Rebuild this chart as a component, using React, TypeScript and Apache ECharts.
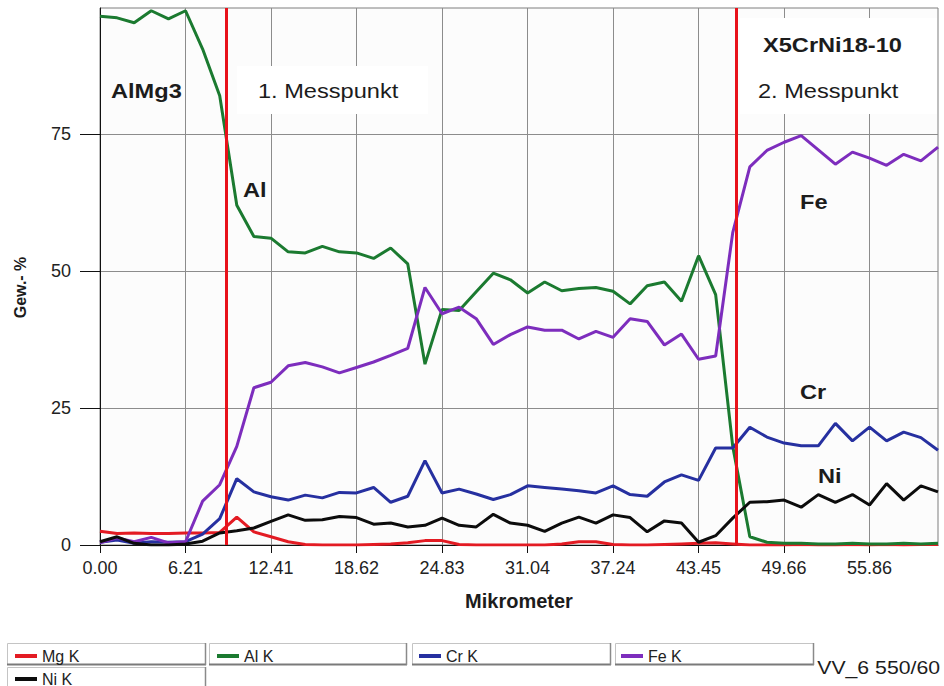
import React, { useEffect, useRef } from "react";
import * as echarts from "echarts";

// Distance along the line scan (µm), one point per measurement
const xPositions = [
  0.0, 1.24, 2.48, 3.72, 4.97, 6.21, 7.45, 8.69, 9.93, 11.17,
  12.41, 13.66, 14.9, 16.14, 17.38, 18.62, 19.86, 21.1, 22.34, 23.59,
  24.83, 26.07, 27.31, 28.55, 29.79, 31.04, 32.28, 33.52, 34.76, 36.0,
  37.24, 38.48, 39.72, 40.97, 42.21, 43.45, 44.69, 45.93, 47.17, 48.41,
  49.66, 50.9, 52.14, 53.38, 54.62, 55.86, 57.1, 58.34, 59.59, 60.83,
];
const xAxisMax = 60.83;
const xTickLabels = ["0.00", "6.21", "12.41", "18.62", "24.83", "31.04", "37.24", "43.45", "49.66", "55.86"];
const xTickStep = 6.207;
const yTickValues = [0, 25, 50, 75];
const yAxisMax = 98;

const seriesNames = ["Mg K", "Al K", "Cr K", "Fe K", "Ni K"];
const seriesColors = ["#e31b23", "#1b7a30", "#2630a0", "#7d2dbd", "#0c0c0c"];

const mgK = [
  2.5, 2.1, 2.2, 2.1, 2.1, 2.2, 2.2, 2.3, 5.1, 2.4,
  1.5, 0.6, 0.1, 0.0, 0.0, 0.0, 0.1, 0.2, 0.4, 0.8,
  0.8, 0.1, 0.0, 0.0, 0.0, 0.0, 0.0, 0.2, 0.6, 0.6,
  0.1, 0.0, 0.0, 0.1, 0.2, 0.3, 0.4, 0.2, 0.0, 0.0,
  0.0, 0.1, 0.0, 0.0, 0.1, 0.0, 0.1, 0.0, 0.1, 0.1,
];
const alK = [
  96.5, 96.2, 95.3, 97.5, 96.0, 97.5, 90.5, 82.0, 62.0, 56.3,
  56.0, 53.5, 53.3, 54.5, 53.5, 53.3, 52.3, 54.2, 51.3, 33.0,
  43.0, 42.8, 46.2, 49.6, 48.4, 46.0, 48.0, 46.4, 46.8, 47.0,
  46.3, 44.0, 47.3, 48.0, 44.5, 52.8, 45.7, 18.0, 1.5, 0.5,
  0.3, 0.3, 0.2, 0.2, 0.3, 0.2, 0.2, 0.3, 0.2, 0.3,
];
const crK = [
  0.5, 0.9, 0.3, 0.6, 0.5, 0.6, 2.0, 4.8, 12.1, 9.7,
  8.8, 8.2, 9.1, 8.6, 9.6, 9.5, 10.5, 7.8, 8.9, 15.4,
  9.5, 10.2, 9.3, 8.3, 9.2, 10.8, 10.5, 10.2, 9.9, 9.5,
  10.8, 9.2, 8.9, 11.5, 12.8, 11.8, 17.7, 17.7, 21.5, 19.7,
  18.6, 18.1, 18.1, 22.2, 19.0, 21.5, 19.0, 20.6, 19.6, 17.3,
];
const feK = [
  0.4, 1.3, 0.6, 1.4, 0.4, 0.6, 8.0, 11.0, 18.0, 28.7,
  29.7, 32.7, 33.3, 32.5, 31.4, 32.4, 33.4, 34.6, 35.9, 47.0,
  42.2, 43.4, 41.3, 36.6, 38.4, 39.8, 39.2, 39.2, 37.6, 39.0,
  37.9, 41.3, 40.8, 36.5, 38.5, 33.9, 34.5, 57.0, 69.0, 72.0,
  73.5, 74.7, 72.1, 69.5, 71.7, 70.6, 69.3, 71.3, 70.1, 72.6,
];
const niK = [
  0.6, 1.5, 0.3, 0.0, 0.0, 0.2, 0.7, 2.2, 2.6, 3.1,
  4.3, 5.5, 4.5, 4.6, 5.2, 5.0, 3.8, 4.0, 3.3, 3.6,
  4.9, 3.6, 3.3, 5.6, 4.0, 3.6, 2.5, 4.0, 5.1, 4.0,
  5.5, 5.0, 2.4, 4.4, 4.0, 0.5, 1.7, 4.9, 7.8, 7.9,
  8.2, 6.9, 9.2, 7.8, 9.2, 7.3, 11.2, 8.2, 10.8, 9.7,
];
const seriesValues = [mgK, alK, crK, feK, niK];

// Measurement point positions (µm), drawn as red vertical lines
const measurePoints = [9.2, 46.17];

const FONT = 'Arial, "Liberation Sans", Helvetica, sans-serif';
const TEXT = "#1c1c1c";
const SX = 1.18;

export default function App() {
  const ref = useRef<HTMLDivElement>(null);

  useEffect(() => {
    const chart = echarts.init(ref.current!, undefined, { renderer: "svg" });
    const xTickValues = xTickLabels.map((_, i) => +(i * xTickStep).toFixed(3));

    const annotation = (text: string, x: number, y: number, bold: boolean, size = 20, align = "left") => ({
      type: "text",
      x,
      y,
      scaleX: SX,
      z: 20,
      style: {
        text,
        fill: TEXT,
        font: `${bold ? "bold " : ""}${size}px ${FONT}`,
        align,
        verticalAlign: "middle",
      },
    });

    const legendBoxes: any[] = [];
    const boxSpec = [
      [7, 643, 198],
      [209, 643, 197],
      [412, 643, 198],
      [615, 643, 198],
      [7, 667, 198],
    ];
    boxSpec.forEach(([x, y, w], k) => {
      const h = k === 4 ? 30 : 21;
      legendBoxes.push({
        type: "rect",
        z: 1,
        shape: { x: x + 0.5, y: y + 0.5, width: w, height: h },
        style: { fill: "#ffffff", stroke: "#c4c4c4", lineWidth: 1 },
      });
      if (k !== 4) {
        legendBoxes.push({
          type: "line",
          z: 2,
          shape: { x1: x, y1: y + h + 0.5, x2: x + w + 1, y2: y + h + 0.5 },
          style: { stroke: "#7a7a7a", lineWidth: 2 },
        });
      }
      legendBoxes.push({
        type: "line",
        z: 2,
        shape: { x1: x + w + 0.5, y1: y, x2: x + w + 0.5, y2: y + h + 1 },
        style: { stroke: "#8a8a8a", lineWidth: 1.5 },
      });
    });

    const option: any = {
      animation: false,
      backgroundColor: "#ffffff",
      grid: {
        left: 100,
        right: 6,
        top: 8,
        bottom: 141,
        show: true,
        backgroundColor: "#fcfcfc",
        borderColor: "#7f7f7f",
        borderWidth: 1,
      },
      xAxis: {
        type: "value",
        min: 0,
        max: xAxisMax,
        interval: xTickStep,
        name: "Mikrometer",
        nameLocation: "middle",
        nameGap: 46,
        nameTextStyle: { fontFamily: FONT, fontWeight: "bold", fontSize: 20, color: TEXT },
        axisLine: { show: true, lineStyle: { color: "#111", width: 1 } },
        axisTick: {
          show: true,
          length: 8,
          customValues: xTickValues,
          lineStyle: { color: "#111", width: 1 },
        },
        axisLabel: {
          customValues: xTickValues,
          margin: 14,
          fontFamily: FONT,
          fontSize: 18,
          color: "#222",
          formatter: (v: number) => {
            const idx = xTickValues.findIndex((t) => Math.abs(t - v) < 0.01);
            return idx >= 0 ? xTickLabels[idx] : "";
          },
        },
        splitLine: { show: true, lineStyle: { color: "#8c8c8c", width: 1 } },
      },
      yAxis: {
        type: "value",
        min: 0,
        max: yAxisMax,
        interval: 25,
        name: "Gew.- %",
        nameLocation: "middle",
        nameRotate: 90,
        nameGap: 72,
        nameTextStyle: {
          fontFamily: FONT,
          fontWeight: "bold",
          fontSize: 16,
          color: TEXT,
          padding: [0, 22, 0, 0],
        },
        axisLine: { show: true, lineStyle: { color: "#111", width: 1 } },
        axisTick: {
          show: true,
          length: 20,
          customValues: yTickValues,
          lineStyle: { color: "#111", width: 1 },
        },
        axisLabel: {
          customValues: yTickValues,
          margin: 29,
          fontFamily: FONT,
          fontSize: 18,
          color: "#222",
        },
        splitLine: { show: true, lineStyle: { color: "#8c8c8c", width: 1 } },
      },
      legend: {
        data: seriesNames,
        left: 10,
        top: 642,
        width: 830,
        orient: "horizontal",
        icon: "rect",
        itemWidth: 22,
        itemHeight: 4,
        itemGap: 5,
        selectedMode: false,
        z: 10,
        textStyle: { fontFamily: FONT, fontSize: 16, color: "#222", width: 170, lineHeight: 18 },
      },
      series: seriesNames.map((name, k) => ({
        name,
        type: "line",
        showSymbol: false,
        symbol: "none",
        color: seriesColors[k],
        lineStyle: { color: seriesColors[k], width: 3 },
        data: xPositions.map((x, i) => [x, seriesValues[k][i]]),
        markLine:
          k === seriesNames.length - 1
            ? {
                silent: true,
                symbol: "none",
                label: { show: false },
                lineStyle: { color: "#e8121b", width: 3, type: "solid" },
                data: measurePoints.map((v) => ({ xAxis: v })),
              }
            : undefined,
      })),
      graphic: [
        // white label panels
        { type: "rect", z: 1, shape: { x: 237, y: 66, width: 191, height: 48 }, style: { fill: "#ffffff" } },
        { type: "rect", z: 1, shape: { x: 740, y: 18, width: 197, height: 96 }, style: { fill: "#ffffff" } },
        ...legendBoxes,
        annotation("AlMg3", 111, 91, true),
        annotation("1. Messpunkt", 258, 91, false),
        annotation("Al", 243, 190, true),
        annotation("X5CrNi18-10", 763, 45, true),
        annotation("2. Messpunkt", 758, 91, false),
        annotation("Fe", 800, 202, true),
        annotation("Cr", 800, 392, true),
        annotation("Ni", 818, 476, true),
        annotation("VV_6 550/60", 940, 668, false, 18, "right"),
      ],
    };

    chart.setOption(option);
    return () => chart.dispose();
  }, []);

  return (
    <div
      ref={ref}
      style={{ position: "absolute", left: 0, top: 0, width: 944, height: 686, background: "#ffffff" }}
    />
  );
}
